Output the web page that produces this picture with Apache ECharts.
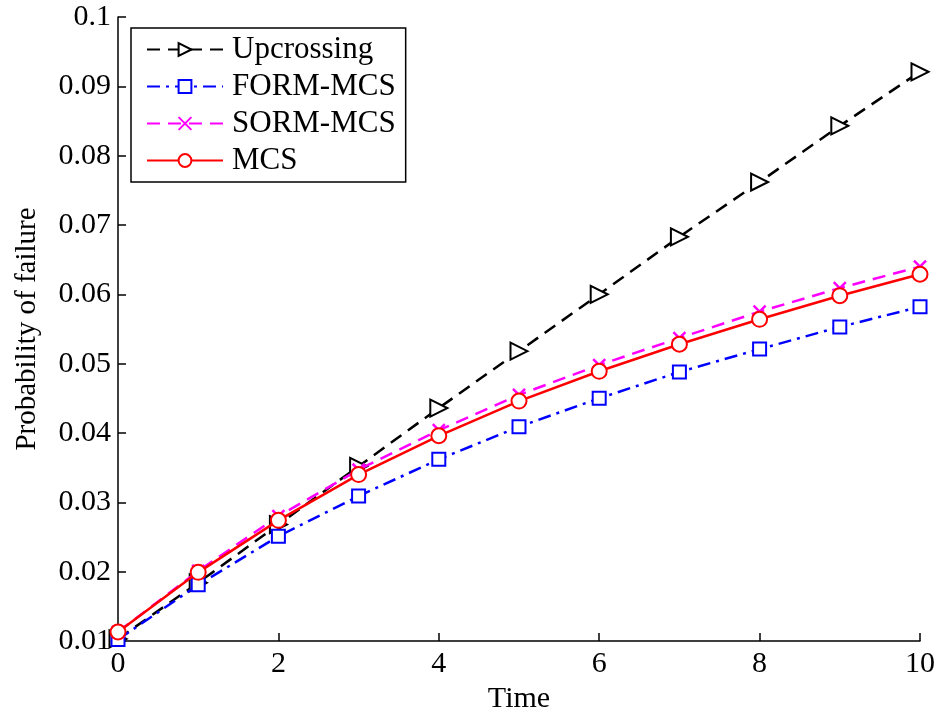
<!DOCTYPE html>
<html><head><meta charset="utf-8">
<script src="https://cdn.jsdelivr.net/npm/echarts@6/dist/echarts.min.js"></script>
<style>html,body{margin:0;padding:0;background:#fff}#c{width:943px;height:710px}</style>
</head><body><div id="c"></div>
<script>
const times = [0,1,2,3,4,5,6,7,8,9,10];
const upcrossing = [0.0103,0.0184,0.0268,0.0352,0.0436,0.0518,0.0600,0.0683,0.0762,0.0843,0.0921];
const formMcs   = [0.0102,0.0181,0.0251,0.0309,0.0362,0.0409,0.0450,0.0488,0.0521,0.0553,0.0582];
const sormMcs   = [0.0113,0.0201,0.0280,0.0347,0.0404,0.0455,0.0498,0.0537,0.0575,0.0609,0.0640];
const mcs       = [0.0113,0.0199,0.0274,0.0340,0.0396,0.0446,0.0489,0.0528,0.0564,0.0598,0.0629];
const seriesNames = ['Upcrossing','FORM-MCS','SORM-MCS','MCS'];

const font = 'Liberation Serif';
const fs = 30;
const pair = arr => arr.map((v,i)=>[times[i], v]);
const chart = echarts.init(document.getElementById('c'), null, {renderer:'canvas'});
chart.setOption({
  backgroundColor:'#fff',
  animation:false,
  grid:{left:118,right:23,top:17,bottom:69, containLabel:false, outerBoundsMode:'none'},
  legend:{
    left:131, top:28, orient:'vertical', itemWidth:76, itemHeight:16, itemGap:6,
    padding:[6,10,6,15], borderColor:'#000', borderWidth:1.5, backgroundColor:'#fff',
    textStyle:{fontFamily:font, fontSize:31, color:'#000', padding:[0,0,0,4]},
    data:seriesNames
  },
  xAxis:{
    type:'value', min:0, max:10, interval:2,
    name:'Time', nameLocation:'middle', nameGap:36,
    nameTextStyle:{fontFamily:font, fontSize:fs, color:'#000'},
    axisLine:{lineStyle:{color:'#000', width:1.5}},
    axisTick:{inside:true, length:8, lineStyle:{color:'#000', width:1.5}},
    axisLabel:{fontFamily:font, fontSize:fs, color:'#000', margin:8},
    splitLine:{show:false}
  },
  yAxis:{
    type:'value', min:0.01, max:0.1, interval:0.01,
    name:'Probability of failure', nameLocation:'middle', nameGap:76,
    nameTextStyle:{fontFamily:font, fontSize:29, color:'#000'},
    axisLine:{show:true, lineStyle:{color:'#000', width:1.5}},
    axisTick:{show:true, inside:true, length:8, lineStyle:{color:'#000', width:1.5}},
    axisLabel:{fontFamily:font, fontSize:fs, color:'#000', margin:7,
      formatter:v=>String(Math.round(v*100)/100)},
    splitLine:{show:false}
  },
  series:[
    {name:seriesNames[0], type:'line', data:pair(upcrossing), symbol:'emptyTriangle', symbolRotate:-90, symbolSize:17,
     lineStyle:{color:'#000', width:2.5, type:[13,8]}, itemStyle:{color:'#000', borderColor:'#000', borderWidth:2.5}, z:2},
    {name:seriesNames[1], type:'line', data:pair(formMcs), symbol:'emptyRect', symbolSize:13,
     lineStyle:{color:'#0000ff', width:2.5, type:[13,6,3,6]}, itemStyle:{color:'#0000ff', borderColor:'#0000ff', borderWidth:2.5}, z:3},
    {name:seriesNames[2], type:'line', data:pair(sormMcs), symbol:'path://M0,0L10,10M10,0L0,10', symbolSize:12,
     lineStyle:{color:'#ff00ff', width:2.5, type:[13,8]}, itemStyle:{color:'#ff00ff', borderColor:'#ff00ff', borderWidth:2.5}, z:4},
    {name:seriesNames[3], type:'line', data:pair(mcs), symbol:'emptyCircle', symbolSize:15,
     lineStyle:{color:'#ff0000', width:2.5, type:'solid'}, itemStyle:{color:'#ff0000', borderColor:'#ff0000', borderWidth:2.5}, z:5}
  ]
});
</script></body></html>
